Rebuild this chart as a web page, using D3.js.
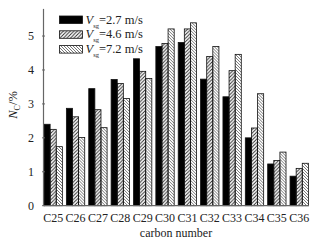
<!DOCTYPE html>
<html>
<head>
<meta charset="utf-8">
<script src="https://cdn.jsdelivr.net/npm/d3@7"></script>
<style>
  body { margin: 0; background: #fff; }
  svg text { font-family: 'Liberation Serif', 'Times New Roman', 'DejaVu Serif', serif; fill: #222; }
</style>
</head>
<body>
<svg id="chart" width="325" height="252" font-family="Liberation Serif, Times New Roman, DejaVu Serif, serif"></svg>
<script>
// ---------------------------------------------------------------------------
// data
// ---------------------------------------------------------------------------
const carbons = ['C25', 'C26', 'C27', 'C28', 'C29', 'C30', 'C31', 'C32', 'C33', 'C34', 'C35', 'C36'];
const v27 = [2.40, 2.87, 3.45, 3.72, 4.33, 4.69, 4.81, 3.73, 3.21, 2.00, 1.23, 0.87];
const v46 = [2.25, 2.62, 2.83, 3.60, 3.96, 4.78, 5.21, 4.40, 3.98, 2.29, 1.33, 1.10];
const v72 = [1.74, 2.01, 2.30, 3.16, 3.75, 5.21, 5.39, 4.69, 4.46, 3.30, 1.58, 1.25];
const seriesNames = ['2.7', '4.6', '7.2'];
const yTicks = [0, 1, 2, 3, 4, 5];

const serif = "'Liberation Serif', 'Times New Roman', 'DejaVu Serif', serif";
const svg = d3.select('#chart');

// hatch patterns ------------------------------------------------------------
const defs = svg.append('defs');
defs.append('pattern').attr('id', 'hatchA')
  .attr('patternUnits', 'userSpaceOnUse').attr('width', 3.5).attr('height', 3.5)
  .append('path').attr('d', 'M-1,1 L1,-1 M0,3.5 L3.5,0 M2.5,4.5 L4.5,2.5')
  .attr('stroke', '#222').attr('stroke-width', 0.9);
defs.append('pattern').attr('id', 'hatchB')
  .attr('patternUnits', 'userSpaceOnUse').attr('width', 3).attr('height', 3)
  .append('path').attr('d', 'M-1,2 L1,4 M0,0 L3,3 M2,-1 L4,1')
  .attr('stroke', '#666').attr('stroke-width', 0.9);
const fills = ['#000', 'url(#hatchA)', 'url(#hatchB)'];

// scales --------------------------------------------------------------------
const x = d3.scaleBand().domain(carbons).range([42, 310.4])
  .paddingInner(0.18).paddingOuter(0.09);
const xSub = d3.scaleBand().domain([0, 1, 2]).range([0, x.bandwidth()]);
const y = d3.scaleLinear().domain([0, 5.8]).range([205.7, 8.9]);

// bars ----------------------------------------------------------------------
const rows = carbons.map((c, i) => ({c: c, vals: [v27[i], v46[i], v72[i]]}));
const groups = svg.append('g').selectAll('g').data(rows).enter().append('g')
  .attr('transform', d => `translate(${x(d.c)},0)`);
groups.selectAll('rect')
  .data(d => d.vals.map((v, k) => ({k: k, v: v})))
  .enter().append('rect')
  .attr('x', d => xSub(d.k))
  .attr('y', d => y(d.v))
  .attr('width', xSub.bandwidth())
  .attr('height', d => y(0) - y(d.v))
  .attr('fill', d => fills[d.k])
  .attr('stroke', '#111')
  .attr('stroke-width', 0.8);

// axes ----------------------------------------------------------------------
const axisX = 43.5;
svg.append('line').attr('x1', axisX).attr('x2', axisX)
  .attr('y1', y(5.8)).attr('y2', y(0))
  .attr('stroke', '#666').attr('stroke-width', 1.2);
svg.append('line').attr('x1', axisX).attr('x2', 309)
  .attr('y1', y(0)).attr('y2', y(0))
  .attr('stroke', '#666').attr('stroke-width', 1.2);

svg.append('g').selectAll('line').data(yTicks).enter().append('line')
  .attr('x1', axisX - 1.5).attr('x2', axisX + 1.5)
  .attr('y1', d => y(d)).attr('y2', d => y(d))
  .attr('stroke', '#666');
svg.append('g').selectAll('text').data(yTicks).enter().append('text')
  .attr('x', 34).attr('y', d => y(d))
  .attr('dy', '0.35em')
  .attr('text-anchor', 'end')
  .style('font-family', serif)
  .style('font-size', '12px')
  .text(d => d);

svg.append('g').selectAll('text').data(carbons).enter().append('text')
  .attr('x', d => x(d) + x.bandwidth() / 2)
  .attr('y', 222)
  .attr('text-anchor', 'middle')
  .style('font-family', serif)
  .style('font-size', '12px')
  .text(d => d);

svg.append('text').attr('x', 176).attr('y', 237)
  .attr('text-anchor', 'middle')
  .style('font-family', serif)
  .style('font-size', '12px')
  .text('carbon number');

// y label N_C/%
const yl = svg.append('text')
  .attr('transform', 'translate(17,105) rotate(-90)')
  .attr('text-anchor', 'middle')
  .style('font-family', serif)
  .style('font-size', '12.5px');
yl.append('tspan').style('font-style', 'italic').text('N');
yl.append('tspan').attr('dy', 3).style('font-size', '8px').text('C');
yl.append('tspan').attr('dy', -3).text('/%');

// legend --------------------------------------------------------------------
const legend = svg.append('g');
seriesNames.forEach((s, k) => {
  const yy = 16 + k * 14.8;
  legend.append('rect').attr('x', 59.5).attr('y', yy)
    .attr('width', 23).attr('height', 7.5)
    .attr('fill', fills[k]).attr('stroke', '#111').attr('stroke-width', 0.8);
  const t = legend.append('text').attr('x', 85.5).attr('y', yy + 7.5)
    .style('font-family', serif)
    .style('font-size', '12.5px');
  t.append('tspan').style('font-style', 'italic').text('V');
  t.append('tspan').attr('dy', 4).style('font-size', '6.5px').text('sg');
  t.append('tspan').attr('dy', -4).text(`=${s} m/s`);
});
</script>
</body>
</html>
